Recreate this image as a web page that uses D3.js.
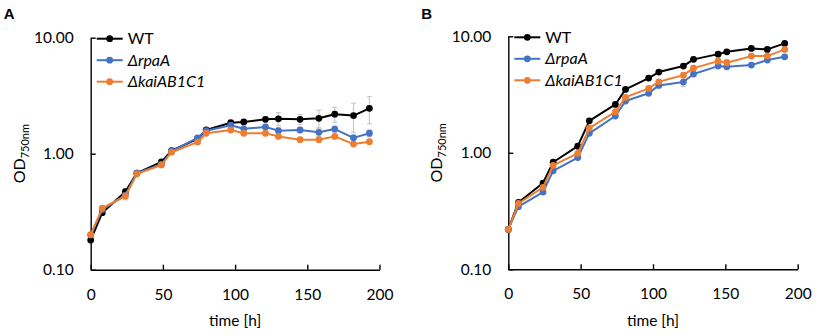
<!DOCTYPE html>
<html>
<head>
<meta charset="utf-8">
<script src="https://cdn.jsdelivr.net/npm/d3@7"></script>
<style>
  body { margin: 0; background: #fff; }
  text { font-family: Lato, "Open Sans", sans-serif; fill: #000; }
</style>
</head>
<body>
<div id="chart"></div>
<script>
// Data
const seriesNames = ["WT", "ΔrpaA", "ΔkaiAB1C1"];
const seriesColors = ["#000000", "#4472C4", "#ED7D31"];
const yTicks = [0.1, 1, 10];
const xTicks = [0, 50, 100, 150, 200];

// Panel A
const timeA = [0, 8, 24, 32, 49, 56, 74, 80, 97, 106, 121, 130, 145, 158, 169, 182, 193];
const wtA   = [0.18, 0.31, 0.47, 0.68, 0.85, 1.06, 1.34, 1.60, 1.85, 1.88, 1.98, 2.00, 1.98, 2.02, 2.19, 2.13, 2.46];
const rpaA  = [0.20, 0.33, 0.44, 0.68, 0.81, 1.05, 1.37, 1.58, 1.76, 1.64, 1.70, 1.58, 1.60, 1.53, 1.63, 1.37, 1.50];
const kaiA  = [0.20, 0.34, 0.43, 0.67, 0.80, 1.03, 1.26, 1.50, 1.60, 1.50, 1.50, 1.41, 1.32, 1.32, 1.41, 1.21, 1.27];
const wtErrA  = [0, 0, 0.03, 0, 0.03, 0, 0, 0, 0.05, 0.05, 0.1, 0.26, 0.2, 0.35, 0.32, 0.6, 0.65];
const rpaErrA = [0, 0, 0.02, 0, 0, 0, 0, 0, 0.05, 0.05, 0.05, 0.08, 0.08, 0.12, 0.1, 0.08, 0.1];
const kaiErrA = [0.01, 0, 0.03, 0, 0.02, 0, 0, 0, 0.03, 0.03, 0.03, 0.04, 0.03, 0.03, 0.03, 0.03, 0.03];

// Panel B
const timeB = [0, 7, 24, 31, 48, 56, 74, 81, 97, 104, 121, 128, 145, 151, 168, 179, 191];
const wtB   = [0.22, 0.375, 0.55, 0.83, 1.14, 1.88, 2.60, 3.50, 4.38, 4.93, 5.55, 6.34, 7.03, 7.36, 7.87, 7.72, 8.69];
const rpaB  = [0.22, 0.345, 0.46, 0.70, 0.91, 1.47, 2.07, 2.78, 3.24, 3.79, 4.05, 4.74, 5.55, 5.47, 5.66, 6.25, 6.67];
const kaiB  = [0.22, 0.367, 0.505, 0.78, 0.99, 1.63, 2.25, 2.99, 3.57, 4.07, 4.64, 5.33, 6.12, 5.93, 6.76, 6.76, 7.72];
const wtErrB  = [0, 0, 0.02, 0, 0.03, 0, 0, 0, 0, 0, 0, 0, 0, 0, 0, 0, 0];
const rpaErrB = [0, 0, 0.01, 0, 0.02, 0, 0.05, 0, 0, 0, 0.35, 0, 0, 0, 0, 0, 0];
const kaiErrB = [0, 0, 0, 0, 0, 0, 0, 0, 0, 0, 0, 0, 0, 0.4, 0, 0, 0];

const panels = [
    { label: "A", left: 90.7, right: 379.5, top: 37.7, bottom: 269.7, time: timeA,
      values: [wtA, rpaA, kaiA], errors: [wtErrA, rpaErrA, kaiErrA] },
    { label: "B", left: 508.3, right: 797.7, top: 36.3, bottom: 269.3, time: timeB,
      values: [wtB, rpaB, kaiB], errors: [wtErrB, rpaErrB, kaiErrB] }
];

const svg = d3.select("#chart").append("svg")
    .attr("width", 829)
    .attr("height", 336);

function drawPanel(p) {
    const x = d3.scaleLinear().domain([0, 200]).range([p.left, p.right]);
    const y = d3.scaleLog().domain([0.1, 10]).range([p.bottom, p.top]);
    const g = svg.append("g");

    // panel letter
    g.append("text")
        .attr("x", p.left - 87)
        .attr("y", 18.5)
        .style("font-family", "Arial, 'Liberation Sans', sans-serif")
        .style("font-weight", "bold")
        .style("font-size", "15px")
        .text(p.label);

    // axes
    const yAxis = g.append("g")
        .attr("transform", `translate(${p.left},0)`)
        .call(d3.axisLeft(y).tickValues(yTicks).tickFormat(d3.format(".2f"))
            .tickSizeInner(-5).tickSizeOuter(0).tickPadding(17));
    const xAxis = g.append("g")
        .attr("transform", `translate(0,${p.bottom})`)
        .call(d3.axisBottom(x).tickValues(xTicks)
            .tickSizeInner(-5).tickSizeOuter(0).tickPadding(19));
    [yAxis, xAxis].forEach(a => {
        a.selectAll("path, line").attr("stroke", "#000").attr("stroke-width", 1.4);
        a.selectAll("text").style("font-size", "15.5px").attr("fill", "#000");
    });

    // axis titles
    g.append("text")
        .attr("x", (p.left + p.right) / 2)
        .attr("y", 326)
        .attr("text-anchor", "middle")
        .style("font-size", "15.5px")
        .text("time [h]");

    const yl = g.append("text")
        .attr("transform", `translate(${p.left - 66},${(p.top + p.bottom) / 2}) rotate(-90)`)
        .attr("text-anchor", "middle")
        .style("font-size", "16px");
    yl.append("tspan").text("OD");
    yl.append("tspan").attr("dy", 4).style("font-size", "11px").text("750nm");

    // error bars
    p.values.forEach((vals, si) => {
        const errs = p.errors[si];
        const eb = g.append("g").attr("stroke", "#c9c9c9").attr("stroke-width", 1.2);
        vals.forEach((v, i) => {
            const e = errs[i];
            if (!e) return;
            const cx = x(p.time[i]);
            const y1 = y(v + e), y2 = y(Math.max(v - e, 0.1));
            eb.append("line").attr("x1", cx).attr("x2", cx).attr("y1", y1).attr("y2", y2);
            eb.append("line").attr("x1", cx - 2.5).attr("x2", cx + 2.5).attr("y1", y1).attr("y2", y1);
            eb.append("line").attr("x1", cx - 2.5).attr("x2", cx + 2.5).attr("y1", y2).attr("y2", y2);
        });
    });

    // lines + markers
    const line = d3.line().x(d => x(d[0])).y(d => y(d[1]));
    p.values.forEach((vals, si) => {
        const pts = vals.map((v, i) => [p.time[i], v]);
        g.append("path")
            .datum(pts)
            .attr("fill", "none")
            .attr("stroke", seriesColors[si])
            .attr("stroke-width", 2)
            .attr("stroke-linejoin", "round")
            .attr("d", line);
        g.selectAll(null)
            .data(pts)
            .enter().append("circle")
            .attr("cx", d => x(d[0]))
            .attr("cy", d => y(d[1]))
            .attr("r", 3.4)
            .attr("fill", seriesColors[si]);
    });

    // legend
    seriesNames.forEach((name, si) => {
        const ly = p.top + 1 + si * 21.5;
        const lx = p.left + 6;
        g.append("line")
            .attr("x1", lx).attr("x2", lx + 26)
            .attr("y1", ly).attr("y2", ly)
            .attr("stroke", seriesColors[si]).attr("stroke-width", 2);
        g.append("circle").attr("cx", lx + 13).attr("cy", ly).attr("r", 3.4).attr("fill", seriesColors[si]);
        g.append("text")
            .attr("x", lx + 31)
            .attr("y", ly + 5.5)
            .style("font-size", "16px")
            .style("font-style", si === 0 ? "normal" : "italic")
            .text(name);
    });
}

panels.forEach(drawPanel);
</script>
</body>
</html>
